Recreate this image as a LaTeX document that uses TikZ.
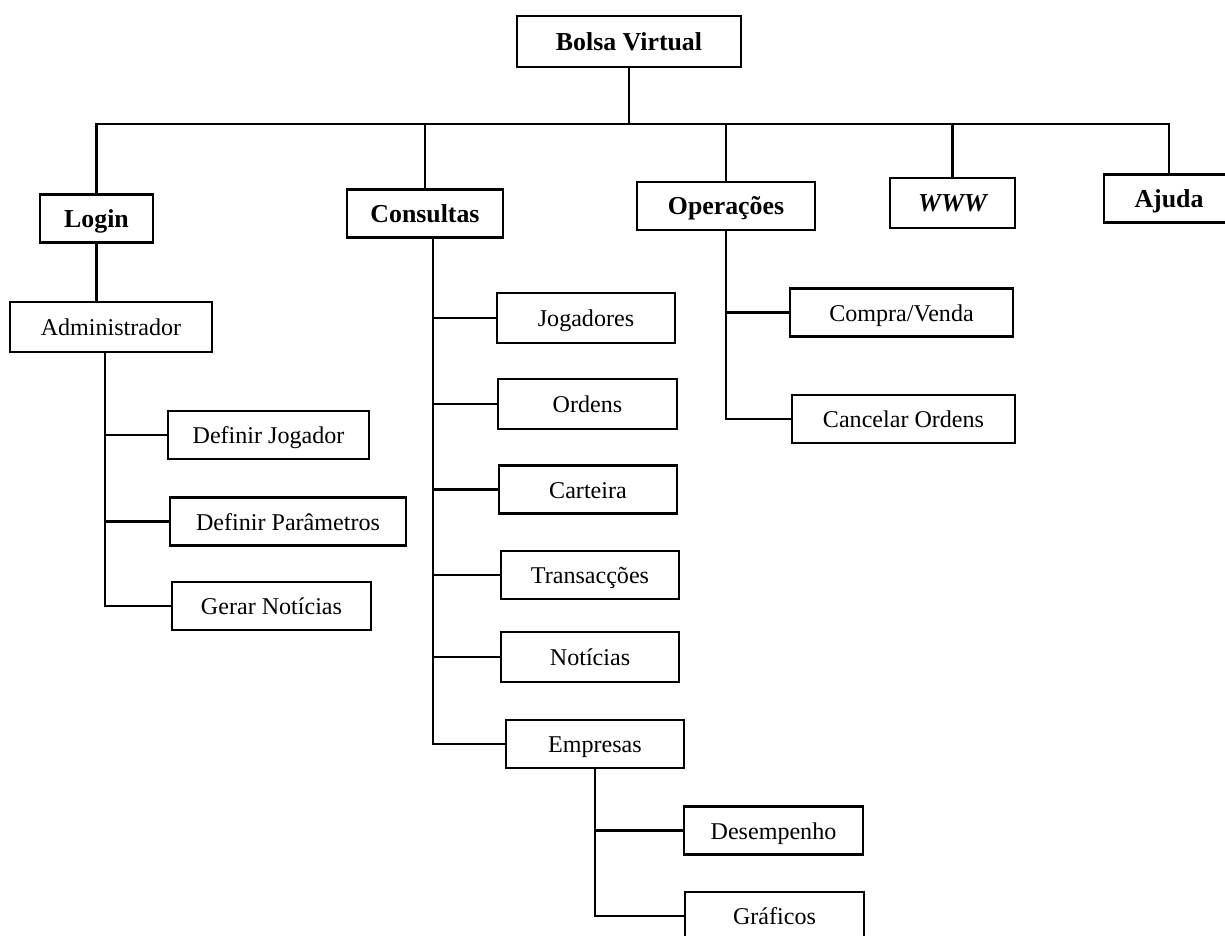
\documentclass[tikz,border=0pt]{standalone}
\usepackage{fontspec}
\setmainfont{Liberation Serif}
\newdimen\pxu \pxu=0.02cm
\tikzset{
  menu/.style={draw, line width=1.5pt, minimum height=48\pxu, inner sep=0pt,
    text height=10pt, text depth=0pt,
    font=\fontsize{13.7}{16}\selectfont},
  topmenu/.style={menu, font=\fontsize{14.7}{17}\selectfont\bfseries},
  link/.style={line width=1.35pt}
}
\begin{document}
\begin{tikzpicture}[x=0.02cm, y=-0.02cm]
    \useasboundingbox (0,0) rectangle (1225,936);
    % menu principal
    \path (629,41.5) node[topmenu, minimum width=224\pxu, minimum height=51\pxu] (bolsa) {Bolsa Virtual};
    \path (96.5,218.5) node[topmenu, minimum width=113\pxu] (login) {Login};
    \path (425,213.5) node[topmenu, minimum width=156\pxu] (cons) {Consultas};
    \path (726,206) node[topmenu, minimum width=178\pxu] (oper) {Operações};
    \path (952.5,203) node[topmenu, minimum width=125\pxu, minimum height=50\pxu] (www) {\itshape WWW};
    \path (1169,198.5) node[topmenu, minimum width=130\pxu] (ajuda) {Ajuda};
    % login
    \path (111,327) node[menu, minimum width=202\pxu, minimum height=50\pxu] (admin) {Administrador};
    \path (268.5,435) node[menu, minimum width=201\pxu] (defjog) {Definir Jogador};
    \path (288,521.5) node[menu, minimum width=236\pxu] (defpar) {Definir Parâmetros};
    \path (271.5,606) node[menu, minimum width=199\pxu] (gernot) {Gerar Notícias};
    % consultas
    \path (586,318) node[menu, minimum width=178\pxu, minimum height=50\pxu] (jog) {Jogadores};
    \path (587.5,404) node[menu, minimum width=179\pxu, minimum height=50\pxu] (ord) {Ordens};
    \path (588,489.5) node[menu, minimum width=178\pxu] (cart) {Carteira};
    \path (590,575) node[menu, minimum width=178\pxu] (trans) {Transacções};
    \path (590,657) node[menu, minimum width=178\pxu, minimum height=50\pxu] (noti) {Notícias};
    \path (595,744) node[menu, minimum width=178\pxu] (emp) {Empresas};
    \path (773.5,830.5) node[menu, minimum width=179\pxu] (desemp) {Desempenho};
    \path (774.5,916) node[menu, minimum width=179\pxu] (graf) {Gráficos};
    % operacoes
    \path (901.5,312.5) node[menu, minimum width=223\pxu] (compra) {Compra/Venda};
    \path (903.5,419) node[menu, minimum width=223\pxu] (cancel) {Cancelar Ordens};

    % ligacoes
    \coordinate (bus) at (629,124);
    \draw[link] (bolsa.south) -- (bus);
    \draw[link] (login.north) |- (bus) -| (ajuda.north);
    \draw[link] (cons.north) -- (cons.north |- bus);
    \draw[link] (oper.north) -- (oper.north |- bus);
    \draw[link] (www.north) -- (www.north |- bus);

    \draw[link] (login.south) -- (login.south |- admin.north);
    \draw[link] ([xshift=-6\pxu]admin.south) |- (gernot.west);
    \draw[link] ([xshift=-6\pxu]admin.south |- defjog.west) -- (defjog.west);
    \draw[link] ([xshift=-6\pxu]admin.south |- defpar.west) -- (defpar.west);

    \draw[link] ([xshift=8\pxu]cons.south) |- (emp.west);
    \foreach \n in {jog,ord,cart,trans,noti}
        \draw[link] ([xshift=8\pxu]cons.south |- \n.west) -- (\n.west);

    \draw[link] (emp.south) |- (graf.west);
    \draw[link] (emp.south |- desemp.west) -- (desemp.west);

    \draw[link] (oper.south) |- (cancel.west);
    \draw[link] (oper.south |- compra.west) -- (compra.west);
\end{tikzpicture}
\end{document}
